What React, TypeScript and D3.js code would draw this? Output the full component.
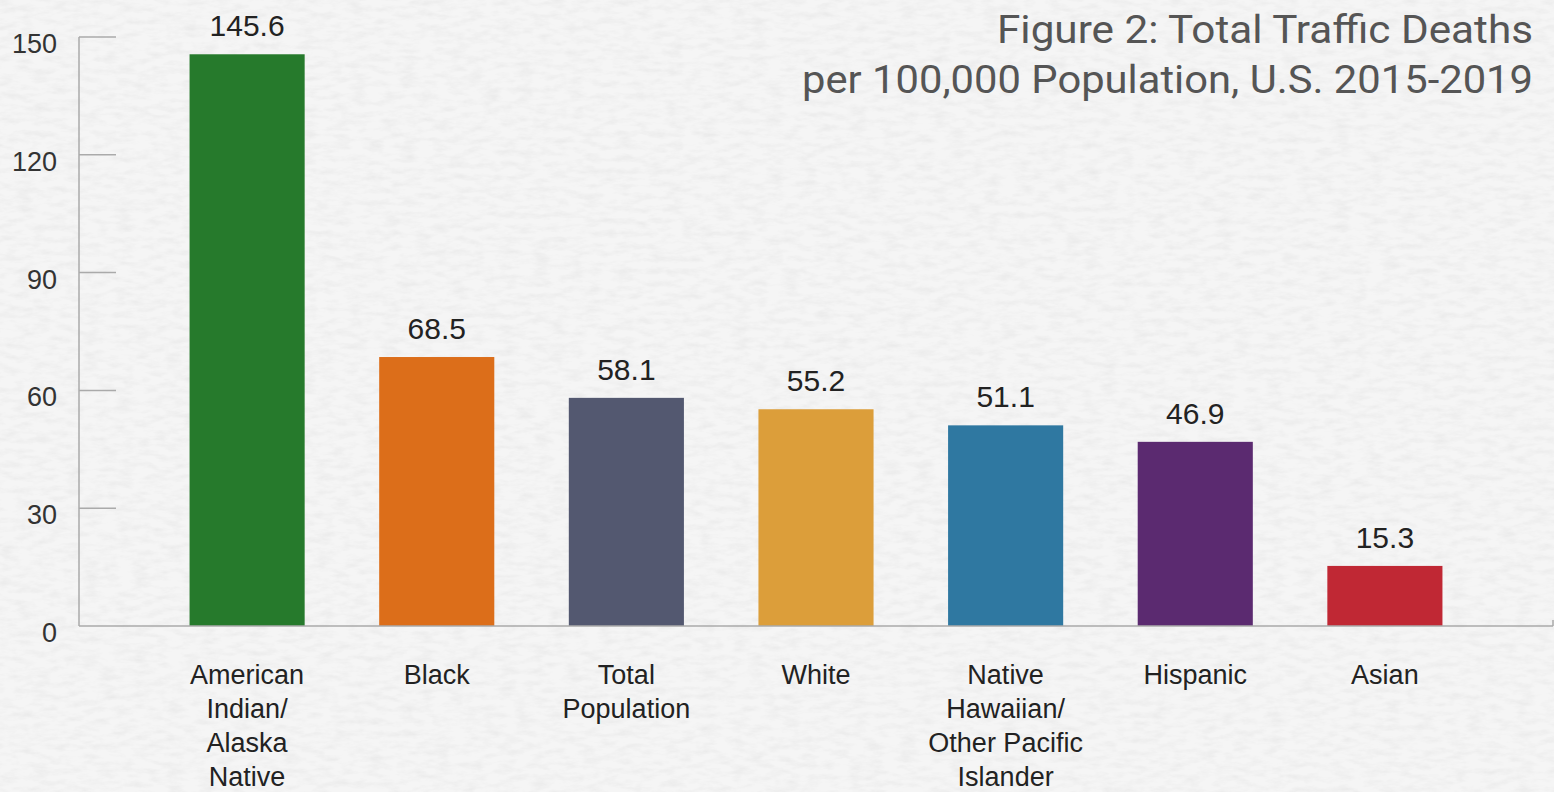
import React, { useEffect } from 'react';
import * as d3 from 'd3';

const categories = [
  ['American', 'Indian/', 'Alaska', 'Native'],
  ['Black'],
  ['Total', 'Population'],
  ['White'],
  ['Native', 'Hawaiian/', 'Other Pacific', 'Islander'],
  ['Hispanic'],
  ['Asian'],
];
const values = [145.6, 68.5, 58.1, 55.2, 51.1, 46.9, 15.3];
const barColors = ['#267a2c', '#dc6e1a', '#535870', '#dc9e3a', '#2f78a1', '#5b2a70', '#c02834'];
const yTicks = [0, 30, 60, 90, 120, 150];
const titleLines = ['Figure 2: Total Traffic Deaths', 'per 100,000 Population, U.S. 2015-2019'];

const W = 1554;
const H = 792;

export default function App() {
  useEffect(() => {
    document.body.style.margin = '0';
  }, []);

  const keys = categories.map((c) => c.join(' '));
  const x = d3.scaleBand<string>()
    .domain(keys)
    .range([79, 1553])
    .paddingInner(0.393)
    .paddingOuter(0.583);
  const y = d3.scaleLinear().domain([0, 150]).range([626, 37]);

  const font = '"Liberation Sans", Arial, sans-serif';

  return (
    <svg width={W} height={H} style={{ display: 'block' }}>
      <defs>
        <filter id="paper" x="0" y="0" width="100%" height="100%">
          <feTurbulence type="fractalNoise" baseFrequency="0.06 0.16" numOctaves={4} seed={11} />
          <feColorMatrix
            type="matrix"
            values="0 0 0 0 0.72  0 0 0 0 0.72  0 0 0 0 0.72  0.8 0 0 0 -0.32"
          />
        </filter>
      </defs>
      <rect width={W} height={H} fill="#f5f5f5" />
      <rect width={W} height={H} filter="url(#paper)" />

      {/* title */}
      <g fill="#555" fontFamily='Roboto, "Noto Sans", sans-serif' fontSize={38} textAnchor="end">
        <text x={1533} y={43} textLength={536} lengthAdjust="spacingAndGlyphs">{titleLines[0]}</text>
        <text x={1533} y={93} textLength={731} lengthAdjust="spacingAndGlyphs">{titleLines[1]}</text>
      </g>

      {/* y axis */}
      <line x1={79} x2={79} y1={y(150)} y2={y(0)} stroke="#aaa" strokeWidth={1.5} />
      {yTicks.map((t) => (
        <g key={t}>
          {t > 0 && <line x1={79} x2={116} y1={y(t)} y2={y(t)} stroke="#aaa" strokeWidth={1.5} />}
          <text x={57} y={y(t) + 16} textAnchor="end" fontFamily={font} fontSize={27} fill="#333">
            {t}
          </text>
        </g>
      ))}

      {/* bars */}
      {values.map((v, i) => (
        <g key={keys[i]}>
          <rect
            x={x(keys[i])}
            y={y(v)}
            width={x.bandwidth()}
            height={y(0) - y(v)}
            fill={barColors[i]}
          />
          <text
            x={(x(keys[i]) as number) + x.bandwidth() / 2}
            y={y(v) - 18}
            textAnchor="middle"
            fontFamily={font}
            fontSize={30}
            fill="#222"
          >
            {v.toFixed(1)}
          </text>
          {categories[i].map((line, j) => (
            <text
              key={j}
              x={(x(keys[i]) as number) + x.bandwidth() / 2}
              y={684 + j * 34}
              textAnchor="middle"
              fontFamily={font}
              fontSize={27}
              fill="#222"
            >
              {line}
            </text>
          ))}
        </g>
      ))}

      {/* baseline */}
      <line x1={79} x2={1553} y1={y(0)} y2={y(0)} stroke="#aaa" strokeWidth={1.5} />
      <line x1={1553} x2={1553} y1={y(0)} y2={y(0) - 6} stroke="#aaa" strokeWidth={1.5} />
    </svg>
  );
}
